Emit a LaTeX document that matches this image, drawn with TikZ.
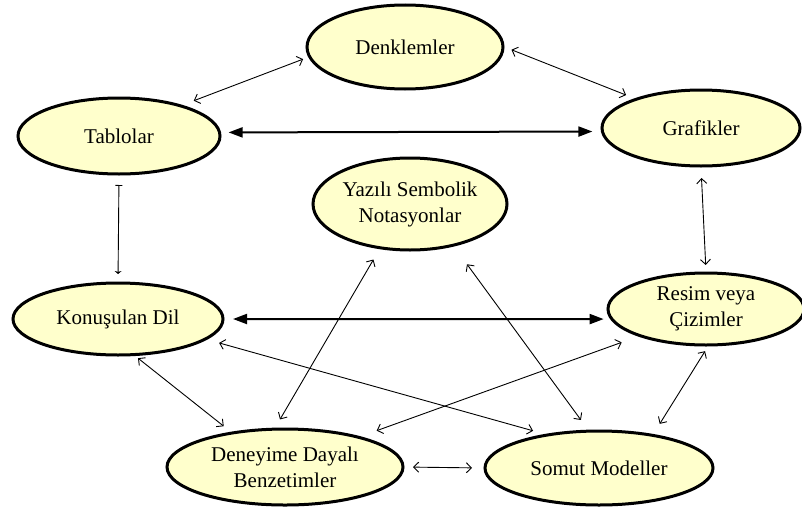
\documentclass[tikz,border=0pt]{standalone}
\usepackage{fontspec}
\setmainfont{Liberation Serif}
\usetikzlibrary{shapes.geometric,arrows.meta}
\definecolor{ovalfill}{RGB}{255,255,204}
\tikzset{
  oval/.style={ellipse, draw=black, line width=3pt, fill=ovalfill,
    inner sep=-4pt, align=center,
    font=\fontsize{21pt}{26pt}\selectfont},
  link/.style={line width=0.9pt,
    {Straight Barb[length=5pt,width=10pt]}-{Straight Barb[length=5pt,width=10pt]}},
  boldlink/.style={line width=2pt,
    {Triangle[length=14pt,width=10pt]}-{Triangle[length=14pt,width=10pt]}},
}
\begin{document}
\begin{tikzpicture}[x=1pt,y=-1pt]
\useasboundingbox (0,0) rectangle (802,506);

% representations
\node[oval, minimum width=196pt, minimum height=84pt] (den)  at (405,47)  {Denklemler};
\node[oval, minimum width=202pt, minimum height=76pt] (tab)  at (119,136) {Tablolar};
\node[oval, minimum width=198pt, minimum height=76pt] (gra)  at (701,128) {Grafikler};
\node[oval, minimum width=194pt, minimum height=92pt] (yaz)  at (410,204) {Yazılı Sembolik\\Notasyonlar};
\node[oval, minimum width=210pt, minimum height=72pt] (kon)  at (118,319) {Konuşulan Dil};
\node[oval, minimum width=196pt, minimum height=72pt] (res)  at (706,309) {Resim veya\\Çizimler};
\node[oval, minimum width=236pt, minimum height=76pt] (deb)  at (285,467) {Deneyime Dayalı\\Benzetimler};
\node[oval, minimum width=228pt, minimum height=74pt] (som)  at (599,468) {Somut Modeller};

% bold links
\draw[boldlink, shorten <=7.5pt, shorten >=8.5pt] (tab.2.5) -- (gra.182.5);
\draw[boldlink, shorten <=8.5pt, shorten >=6.5pt] (kon.east) -- (res.186);

% thin links
\draw[link, shorten <=12pt, shorten >=5.5pt] (tab.26) -- (den.186);
\draw[link, shorten <=7.5pt, shorten >=9pt] (den.east) -- (gra.156);
\draw[line width=0.9pt, {Bar[width=7pt]}-{Stealth[length=3pt,width=7pt]},
      shorten <=9.5pt, shorten >=7.5pt] (tab.south) -- (kon.north);
\draw[link, shorten <=10.5pt, shorten >=6.5pt] (gra.south) -- (res.north);
\draw[link, shorten <=12.5pt, shorten >=12pt] (kon.-13.5) -- (som.148);
\draw[link, shorten <=3.5pt, shorten >=9pt] (kon.-65) -- (deb.147);
\draw[link, shorten <=12pt, shorten >=9.5pt] (yaz.236) -- (deb.104);
\draw[link, shorten <=22pt, shorten >=12pt] (yaz.-44) -- (som.106);
\draw[link, shorten <=17pt, shorten >=17.5pt] (deb.22) -- (res.202);
\draw[link, shorten <=5.5pt, shorten >=12pt] (res.-87) -- (som.32);
\draw[link, shorten <=8.5pt, shorten >=11.5pt] (deb.east) -- (som.west);
\end{tikzpicture}
\end{document}
